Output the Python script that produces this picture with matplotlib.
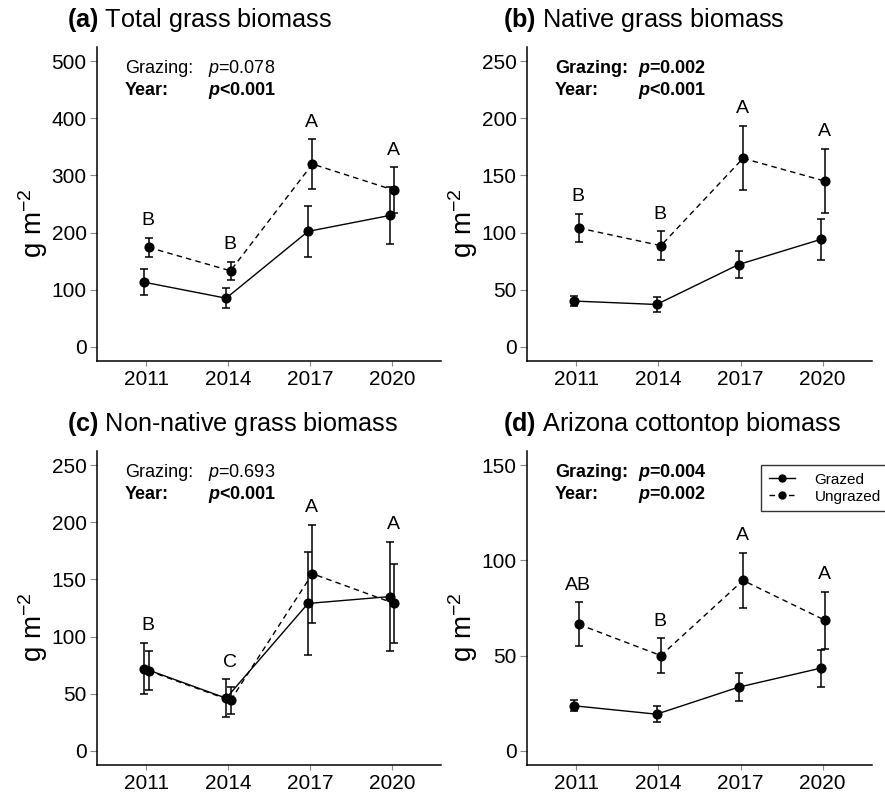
import matplotlib
matplotlib.use("Agg")
import matplotlib.pyplot as plt
import numpy as np

plt.rcParams["font.family"] = "Liberation Sans"
plt.rcParams["mathtext.fontset"] = "custom"
plt.rcParams["mathtext.rm"] = "Liberation Sans"
plt.rcParams["mathtext.it"] = "Liberation Sans:italic"
plt.rcParams["mathtext.bf"] = "Liberation Sans:bold"
plt.rcParams["mathtext.bfit"] = "Liberation Sans:bold:italic"

years = [2011, 2014, 2017, 2020]

# (a) total grass biomass
total_grazed = [113, 85, 202, 230]
total_grazed_se = [23, 17, 44, 50]
total_ungrazed = [174, 133, 320, 274]
total_ungrazed_se = [17, 16, 43, 40]
total_letters = ["B", "B", "A", "A"]

# (b) native grass biomass
native_grazed = [40, 37, 72, 94]
native_grazed_se = [4.5, 6.5, 12, 18]
native_ungrazed = [104, 88.5, 165, 145]
native_ungrazed_se = [12, 12.5, 28, 28]
native_letters = ["B", "B", "A", "A"]

# (c) non-native grass biomass
nonnative_grazed = [72, 46, 129, 135]
nonnative_grazed_se = [22.6, 16.5, 45, 47.5]
nonnative_ungrazed = [70, 44, 155, 129]
nonnative_ungrazed_se = [17, 11.5, 43, 34.5]
nonnative_letters = ["B", "C", "A", "A"]

# (d) Arizona cottontop biomass
cottontop_grazed = [23.6, 19.2, 33.4, 43.4]
cottontop_grazed_se = [2.9, 4.1, 7.5, 9.7]
cottontop_ungrazed = [66.4, 50, 89.5, 68.5]
cottontop_ungrazed_se = [11.5, 9, 14.6, 15]
cottontop_letters = ["AB", "B", "A", "A"]

titles = ["Total grass biomass", "Native grass biomass",
          "Non-native grass biomass", "Arizona cottontop biomass"]
tags = ["(a)", "(b)", "(c)", "(d)"]
grazing_p = ["=0.078", "=0.002", "=0.693", "=0.004"]
year_p = ["<0.001", "<0.001", "<0.001", "=0.002"]
grazing_bold = [False, True, False, True]
yticks_max = [500, 250, 250, 150]
ytick_step = [100, 50, 50, 50]

panels = [
    (total_grazed, total_grazed_se, total_ungrazed, total_ungrazed_se, total_letters),
    (native_grazed, native_grazed_se, native_ungrazed, native_ungrazed_se, native_letters),
    (nonnative_grazed, nonnative_grazed_se, nonnative_ungrazed, nonnative_ungrazed_se, nonnative_letters),
    (cottontop_grazed, cottontop_grazed_se, cottontop_ungrazed, cottontop_ungrazed_se, cottontop_letters),
]

W, H = 885, 794
PT = 72 / 100  # points per pixel
fig = plt.figure(figsize=(W / 100, H / 100), dpi=100)

# axes boxes in pixels: left, top, right, bottom
boxes = [(97, 47, 441, 361), (527, 47, 872, 361),
         (97, 451, 441, 765), (527, 451, 872, 765)]
title_dx = [-30, -24, -30, -24]

yr = np.array(years, dtype=float)
for i, (g, gse, u, use, letters) in enumerate(panels):
    l, t, r, b = boxes[i]
    ax = fig.add_axes([l / W, 1 - b / H, (r - l) / W, (b - t) / H])
    g, gse, u, use = map(np.array, (g, gse, u, use))

    ax.errorbar(yr - 0.07, g, yerr=gse, fmt="none", ecolor="black",
                elinewidth=1.1, capsize=3, capthick=1.1)
    ax.errorbar(yr + 0.09, u, yerr=use, fmt="none", ecolor="black",
                elinewidth=1.1, capsize=3, capthick=1.1)
    ax.plot(yr - 0.07, g, color="black", lw=1.0, marker="o", ms=6.3,
            label="Grazed")
    ax.plot(yr + 0.09, u, color="black", lw=1.0, ls=(0, (4, 3)), marker="o",
            ms=6.3, label="Ungrazed")

    top = np.maximum(g + gse, u + use)
    for x, y, s in zip(yr, top, letters):
        ax.annotate(s, (x + 0.07, y), xytext=(0, 12.5), textcoords="offset points",
                    ha="center", va="center", fontsize=14)

    ymax = yticks_max[i]
    ax.set_ylim(-0.05 * ymax, 1.05 * ymax)
    ax.set_yticks(np.arange(0, ymax + 1, ytick_step[i]))
    ax.set_xlim(2009.2, 2021.8)
    ax.set_xticks(years)

    for s in ["top", "right"]:
        ax.spines[s].set_visible(False)
    for s in ["left", "bottom"]:
        ax.spines[s].set_linewidth(1.1)
    ax.tick_params(axis="y", length=5, width=0.8, color="#888888",
                   labelsize=15, pad=2.5)
    ax.tick_params(axis="x", length=3.5, width=0.8, color="#888888",
                   labelsize=15, pad=3)

    ax.set_ylabel("g m$^{-2}$", fontsize=20, va="center")
    ax.yaxis.set_label_coords(-64 / (r - l), 0.44)

    ax.annotate(r"$\mathbf{" + tags[i] + "}$ " + titles[i], (0, 1),
                xycoords="axes fraction", xytext=(title_dx[i] * PT, 20 * PT),
                textcoords="offset points", ha="left", va="baseline",
                fontsize=18.2)

    gw = "bold" if grazing_bold[i] else "normal"
    pg = (r"$\mathbfit{p}$" if grazing_bold[i] else r"$\mathit{p}$") + grazing_p[i]
    rows = [("Grazing:", pg, gw, -26), ("Year:", r"$\mathbfit{p}$" + year_p[i], "bold", -48)]
    for lab, pv, w, dy in rows:
        ax.annotate(lab, (0, 1), xycoords="axes fraction", xytext=(28 * PT, dy * PT),
                    textcoords="offset points", ha="left", va="baseline",
                    fontsize=13, fontweight=w)
        ax.annotate(pv, (0, 1), xycoords="axes fraction", xytext=(111 * PT, dy * PT),
                    textcoords="offset points", ha="left", va="baseline",
                    fontsize=13, fontweight=w)

    if i == 3:
        leg = ax.legend(loc="upper left", bbox_to_anchor=(761 / W, 1 - 465 / H),
                        bbox_transform=fig.transFigure, borderaxespad=0,
                        fontsize=11, frameon=True, fancybox=False,
                        handlelength=1.75, handletextpad=1.25, borderpad=0.5,
                        labelspacing=0.2)
        leg.get_frame().set_edgecolor("black")
        leg.get_frame().set_linewidth(1.0)
        for h in leg.legend_handles:
            h.set_markersize(5)

fig.savefig("out.png", dpi=100)
